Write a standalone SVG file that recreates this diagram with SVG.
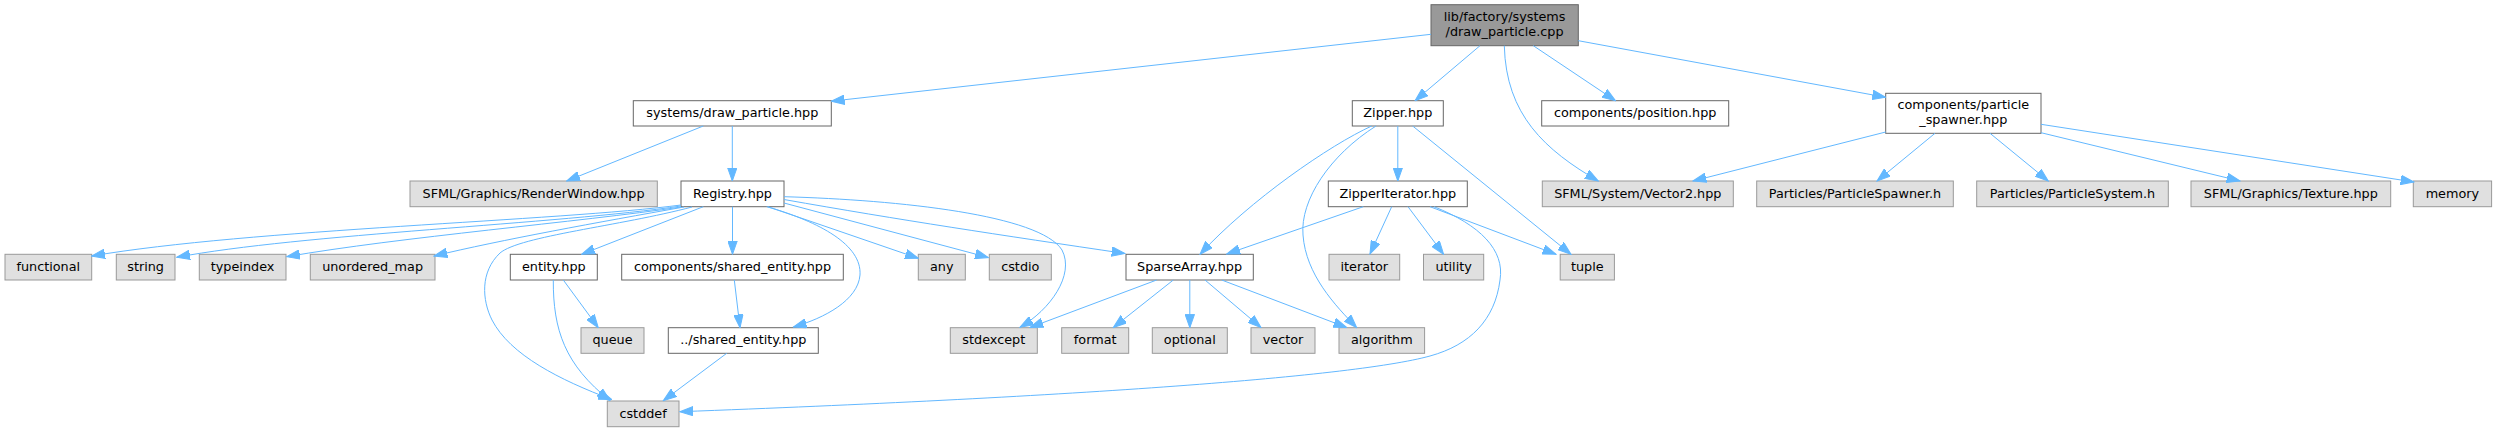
<svg xmlns="http://www.w3.org/2000/svg" width="2497" height="432" viewBox="0 0 2497 432">
<style>
.n rect{fill:#ffffff;stroke:#666666;stroke-width:1}
.x rect{fill:#e0e0e0;stroke:#999999;stroke-width:1}
.r rect{fill:#999999;stroke:#666666;stroke-width:1}
text{font-family:"DejaVu Sans","Liberation Sans",sans-serif;font-size:12.8px;text-anchor:middle;fill:#000000}
#edges path{fill:none;stroke:#63b8ff;stroke-width:1;marker-end:url(#ah)}
</style>
<defs>
<marker id="ah" viewBox="0 0 14 10" markerWidth="14" markerHeight="10" refX="13.3" refY="5" orient="auto" markerUnits="userSpaceOnUse">
<path d="M0,0.3 L13.3,5 L0,9.7 Z" fill="#63b8ff" stroke="#63b8ff" stroke-width="1"/>
</marker>
</defs>
<rect x="0" y="0" width="2497" height="432" fill="#ffffff"/>

<g id="node-root" class="r"><rect x="1431" y="4.7" width="147.3" height="41"/><text x="1504.6" y="20.5">lib/factory/systems</text><text x="1504.6" y="36">/draw_particle.cpp</text></g>

<g id="node-systems-draw-particle" class="n"><rect x="633.3" y="100.7" width="198" height="25.3"/><text x="732.3" y="117.3">systems/draw_particle.hpp</text></g>
<g id="node-zipper" class="n"><rect x="1352.3" y="100.7" width="91" height="25.3"/><text x="1397.8" y="117.3">Zipper.hpp</text></g>
<g id="node-position" class="n"><rect x="1541.7" y="100.7" width="187" height="25.3"/><text x="1635.2" y="117.3">components/position.hpp</text></g>
<g id="node-particle-spawner" class="n"><rect x="1885.7" y="93.3" width="155.3" height="40"/><text x="1963.3" y="108.5">components/particle</text><text x="1963.3" y="124">_spawner.hpp</text></g>

<g id="node-renderwindow" class="x"><rect x="410" y="181" width="247.3" height="25.7"/><text x="533.6" y="197.6">SFML/Graphics/RenderWindow.hpp</text></g>
<g id="node-registry" class="n"><rect x="681" y="181" width="103" height="25.7"/><text x="732.5" y="197.6">Registry.hpp</text></g>
<g id="node-zipperiterator" class="n"><rect x="1328.3" y="181" width="139" height="25.7"/><text x="1397.8" y="197.6">ZipperIterator.hpp</text></g>
<g id="node-vector2" class="x"><rect x="1542.3" y="181" width="191" height="25.7"/><text x="1637.8" y="197.6">SFML/System/Vector2.hpp</text></g>
<g id="node-particlespawner-h" class="x"><rect x="1756.7" y="181" width="196.6" height="25.7"/><text x="1855" y="197.6">Particles/ParticleSpawner.h</text></g>
<g id="node-particlesystem-h" class="x"><rect x="1976.7" y="181" width="191.6" height="25.7"/><text x="2072.5" y="197.6">Particles/ParticleSystem.h</text></g>
<g id="node-texture" class="x"><rect x="2191" y="181" width="199.7" height="25.7"/><text x="2290.8" y="197.6">SFML/Graphics/Texture.hpp</text></g>
<g id="node-memory" class="x"><rect x="2413.3" y="181" width="78.3" height="25.7"/><text x="2452.4" y="197.6">memory</text></g>

<g id="node-functional" class="x"><rect x="5" y="254.3" width="86.7" height="25.7"/><text x="48.3" y="270.9">functional</text></g>
<g id="node-string" class="x"><rect x="116.3" y="254.3" width="58.7" height="25.7"/><text x="145.6" y="270.9">string</text></g>
<g id="node-typeindex" class="x"><rect x="199.3" y="254.3" width="86.7" height="25.7"/><text x="242.6" y="270.9">typeindex</text></g>
<g id="node-unordered-map" class="x"><rect x="310.3" y="254.3" width="124.7" height="25.7"/><text x="372.6" y="270.9">unordered_map</text></g>
<g id="node-entity" class="n"><rect x="510.3" y="254.3" width="87" height="25.7"/><text x="553.8" y="270.9">entity.hpp</text></g>
<g id="node-components-shared-entity" class="n"><rect x="621.7" y="254.3" width="221.6" height="25.7"/><text x="732.5" y="270.9">components/shared_entity.hpp</text></g>
<g id="node-any" class="x"><rect x="918.3" y="254.3" width="47" height="25.7"/><text x="941.8" y="270.9">any</text></g>
<g id="node-cstdio" class="x"><rect x="989.3" y="254.3" width="62" height="25.7"/><text x="1020.3" y="270.9">cstdio</text></g>
<g id="node-sparsearray" class="n"><rect x="1126" y="254.3" width="127.3" height="25.7"/><text x="1189.6" y="270.9">SparseArray.hpp</text></g>
<g id="node-iterator" class="x"><rect x="1329" y="254.3" width="70.7" height="25.7"/><text x="1364.3" y="270.9">iterator</text></g>
<g id="node-utility" class="x"><rect x="1423.5" y="254.3" width="60.2" height="25.7"/><text x="1453.6" y="270.9">utility</text></g>
<g id="node-tuple" class="x"><rect x="1560.2" y="254.3" width="54.2" height="25.7"/><text x="1587.3" y="270.9">tuple</text></g>

<g id="node-queue" class="x"><rect x="581" y="327.7" width="63" height="25.6"/><text x="612.5" y="344.3">queue</text></g>
<g id="node-shared-entity" class="n"><rect x="668.3" y="327.7" width="150" height="25.6"/><text x="743.3" y="344.3">../shared_entity.hpp</text></g>
<g id="node-stdexcept" class="x"><rect x="950.3" y="327.7" width="87" height="25.6"/><text x="993.8" y="344.3">stdexcept</text></g>
<g id="node-format" class="x"><rect x="1061.7" y="327.7" width="67" height="25.6"/><text x="1095.2" y="344.3">format</text></g>
<g id="node-optional" class="x"><rect x="1152.3" y="327.7" width="75" height="25.6"/><text x="1189.8" y="344.3">optional</text></g>
<g id="node-vector" class="x"><rect x="1251" y="327.7" width="64" height="25.6"/><text x="1283" y="344.3">vector</text></g>
<g id="node-algorithm" class="x"><rect x="1339" y="327.7" width="85.6" height="25.6"/><text x="1381.8" y="344.3">algorithm</text></g>

<g id="node-cstddef" class="x"><rect x="607.3" y="401" width="71.7" height="25.7"/><text x="643.1" y="417.6">cstddef</text></g>

<g id="edges">
<path d="M1431,34.3 L831.3,101.2"/>
<path d="M1480,45.7 L1415,100.7"/>
<path d="M1504.3,45.7 C1506,115 1545,150 1598.3,181"/>
<path d="M1533.3,45.7 L1615.5,100.7"/>
<path d="M1578.3,40.7 L1885.7,97.3"/>

<path d="M703.3,126 L566.7,181"/>
<path d="M732.3,126 L732.3,181"/>

<path d="M681,205 C560,221 250,229 91.7,256"/>
<path d="M681,206 C560,224 300,234 176.7,257.3"/>
<path d="M681,207 C580,222 400,237 286.7,256.7"/>
<path d="M684,207 C600,222 500,240 434,256"/>
<path d="M692,207 C620,226 520,236 500,253 C480,272 482,300 492,320 C510,355 560,380 611.7,399.5"/>
<path d="M703.3,206.7 L581.7,254.3"/>
<path d="M732.5,206.7 L732.5,254.3"/>
<path d="M766.7,206.7 C820,222 862,245 860,275 C858,300 825,318 793.3,327"/>
<path d="M768,206.7 L918.3,258.3"/>
<path d="M784,203 L988.3,257.5"/>
<path d="M784,199.5 C900,220 1000,235 1125,253.5"/>
<path d="M784,196.7 C900,200 1040,215 1062,250 C1075,275 1050,310 1020,327.2"/>

<path d="M553.3,280 C553,330 565,365 610,400.5"/>
<path d="M563.3,280 L598.3,327.7"/>
<path d="M734.3,280 L740,327.7"/>
<path d="M726.7,353.3 L663.3,400.7"/>

<path d="M1397.8,126 L1397.8,181"/>
<path d="M1412.7,126 L1571,254.3"/>
<path d="M1371.7,126 C1330,145 1250,200 1200,254.3"/>
<path d="M1376,126 C1330,155 1300,200 1303,235 C1306,275 1335,305 1356.7,327.7"/>

<path d="M1363.3,206.7 L1226.7,254"/>
<path d="M1391.7,206.7 L1370,254"/>
<path d="M1408,206.7 L1443.6,254.3"/>
<path d="M1430,206.7 L1556,254.3"/>
<path d="M1434,206.7 C1480,225 1505,250 1500,280 C1495,320 1470,345 1430,356 C1350,378 1050,398 680,411.7"/>

<path d="M1156.7,280 L1030,327.5"/>
<path d="M1173.3,280 L1113.3,327.5"/>
<path d="M1189.8,280 L1189.8,327.7"/>
<path d="M1205,280 L1261,327.5"/>
<path d="M1221.7,280 L1346.7,327.5"/>

<path d="M1885.7,132 L1693,181"/>
<path d="M1935,133.3 L1877,181"/>
<path d="M1990,133.3 L2048.3,181"/>
<path d="M2041,132.7 L2240,181"/>
<path d="M2041,124.3 L2414,182"/>
</g>
</svg>
